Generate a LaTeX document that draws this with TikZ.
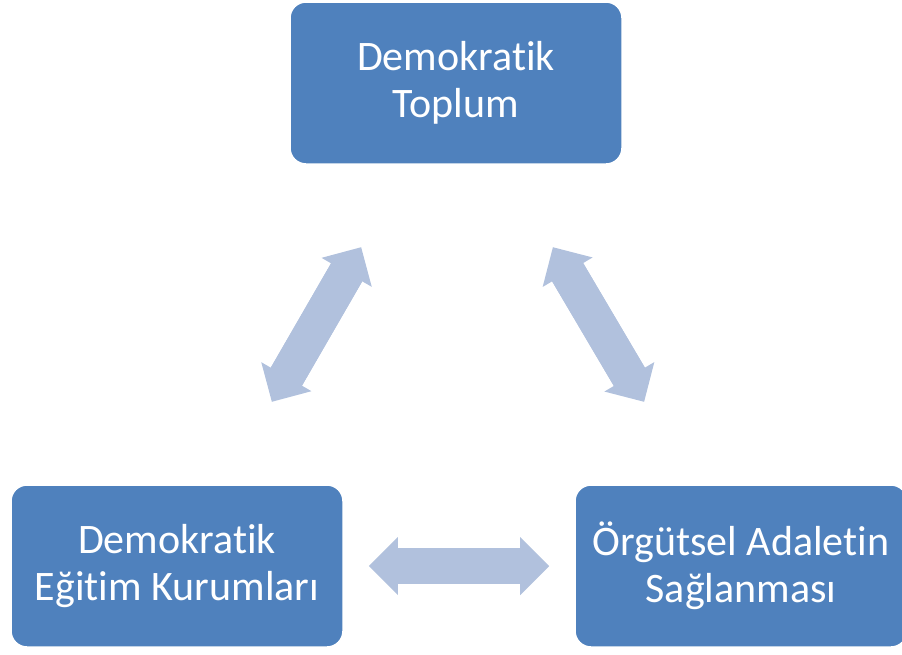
\documentclass[tikz,border=0pt]{standalone}
\usepackage{fontspec}
\setmainfont{Carlito}[Ligatures=NoCommon]
\usetikzlibrary{arrows.meta,calc}
\definecolor{boxblue}{HTML}{4F81BD}
\definecolor{arrowblue}{HTML}{B1C1DD}

\begin{document}
\begin{tikzpicture}[x=1pt,y=-1pt,every node/.style={font=\fontsize{42}{46.5}\selectfont},
  kutu/.style={fill=boxblue,draw=white,line width=1.5pt,rounded corners=16pt,text=white,align=center,minimum width=332pt,minimum height=162pt,inner sep=0pt},
  okcift/.style={draw=arrowblue,line width=36pt,{Triangle[length=29pt,width=58pt,line width=0pt]}-{Triangle[length=29pt,width=58pt,line width=0pt]},
    postaction={draw=arrowblue,line width=36pt,-,shorten <=24pt,shorten >=24pt}}]
\useasboundingbox (0,0) rectangle (902,654);
\node[kutu] (toplum) at (456,83) {Demokratik\\Toplum};
\node[kutu] (egitim) at (177,566) {Demokratik\\Eğitim Kurumları};
\node[kutu] (adalet) at (741,566) {Örgütsel Adaletin\\Sağlanması};
\draw[okcift] ($(egitim.center)!.34!(toplum.center)$) -- ($(egitim.center)!.66!(toplum.center)$);
\draw[okcift] ($(toplum.center)!.34!(adalet.center)$) -- ($(toplum.center)!.66!(adalet.center)$);
\draw[okcift] ($(egitim.center)!.34!(adalet.center)$) -- ($(egitim.center)!.66!(adalet.center)$);
\end{tikzpicture}
\end{document}
